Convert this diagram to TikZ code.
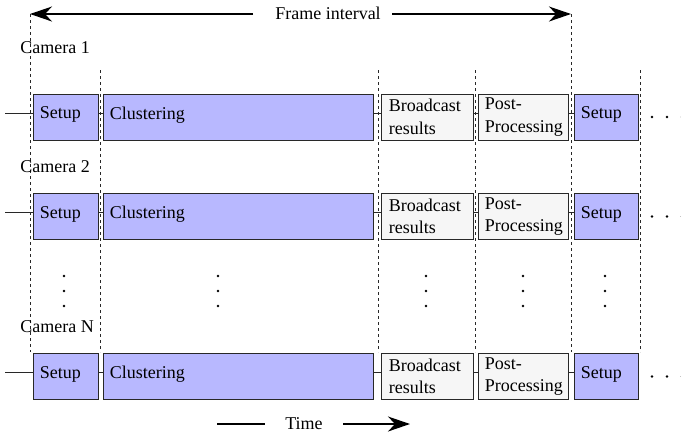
\documentclass[tikz,border=0pt]{standalone}
\usepackage{fontspec}
\setmainfont{Liberation Serif}
\usetikzlibrary{arrows.meta}
\definecolor{boxblue}{RGB}{184,184,255}
\definecolor{boxgrey}{RGB}{246,246,246}
\definecolor{edge}{RGB}{40,40,40}
\begin{document}
\begin{tikzpicture}[x=0.5pt,y=-0.5pt,
  font=\fontsize{9pt}{11.2pt}\selectfont,
  blk/.style={draw=edge, line width=0.5pt, minimum height=23pt, inner ysep=0pt, inner xsep=3.2pt, align=left, anchor=west},
  blue/.style={blk, fill=boxblue, text depth=4pt},
  grey/.style={blk, fill=boxgrey},
  vline/.style={edge, line width=0.5pt, dash pattern=on 1.6pt off 1.4pt},
  conn/.style={edge, line width=0.5pt},
  bigarrow/.style={black, line width=0.7pt, -{Stealth[length=11pt,width=7.5pt,inset=3.5pt]}},
  lab/.style={inner sep=0pt, anchor=west},
  dot/.style={fill=black, circle, inner sep=0pt, minimum size=1.3pt}]
\useasboundingbox (0,0) rectangle (681,436);

% frame interval arrow
\node[inner sep=0pt] (fi) at (328,13) {Frame interval};
\coordinate (fl) at (253,14);
\coordinate (fr) at (392,14);
\coordinate (t0) at (30,14);
\coordinate (t1) at (571,14);
\draw[bigarrow] (fl) -- (t0);
\draw[bigarrow] (fr) -- (t1);

% vertical dotted lines
\coordinate (b0) at (30,352);
\coordinate (b1) at (571,352);
\draw[vline] (t0) -- (b0);
\draw[vline] (t1) -- (b1);
\foreach \x [count=\i] in {100,378,475,640}{
  \coordinate (vt\i) at (\x,70);
  \coordinate (vb\i) at (\x,352);
  \draw[vline] (vt\i) -- (vb\i);
}

% camera labels
\node[lab] (cam1) at (20,48) {Camera 1};
\node[lab] (cam2) at (20,167) {Camera 2};
\node[lab] (camN) at (20,327) {Camera N};

% rows
\foreach \r/\y in {1/117,2/216.5,3/376.5}{
  \node[blue, text width=26.1pt] (s\r) at (33,\y) {Setup};
  \node[blue, text width=128.6pt] (c\r) at (103,\y) {Clustering};
  \node[grey, text width=38.6pt, inner xsep=3.7pt] (b\r) at (381,\y) {Broadcast\\results};
  \node[grey, text width=38.6pt] (p\r) at (478,\y) {Post-\\Processing};
  \node[blue, text width=25.6pt] (n\r) at (574,\y) {Setup};
  \coordinate (in\r) at (5,\y-4);
  \draw[conn] (in\r) -- ([yshift=2pt]s\r.west);
  \draw[conn] ([yshift=2pt]s\r.east) -- ([yshift=2pt]c\r.west);
  \draw[conn] ([yshift=2pt]c\r.east) -- ([yshift=2pt]b\r.west);
  \draw[conn] ([yshift=2pt]b\r.east) -- ([yshift=2pt]p\r.west);
  \draw[conn] ([yshift=2pt]p\r.east) -- ([yshift=2pt]n\r.west);
  \foreach \d [count=\k] in {652,667,682}{
    \node[dot] (tr\r\k) at (\d,\y) {};
  }
}

% vertical ellipses
\foreach \x [count=\i] in {64,218,426,523,605}{
  \foreach \yy [count=\j] in {276,291,306}{
    \node[dot] (vd\i\j) at (\x,\yy) {};
  }
}

% time arrow
\node[inner sep=0pt] (time) at (304,424) {Time};
\coordinate (ta) at (217,424);
\coordinate (tb) at (265,424);
\coordinate (tc) at (343,424);
\coordinate (td) at (410,424);
\draw[black, line width=0.7pt] (ta) -- (tb);
\draw[bigarrow] (tc) -- (td);
\end{tikzpicture}
\end{document}
